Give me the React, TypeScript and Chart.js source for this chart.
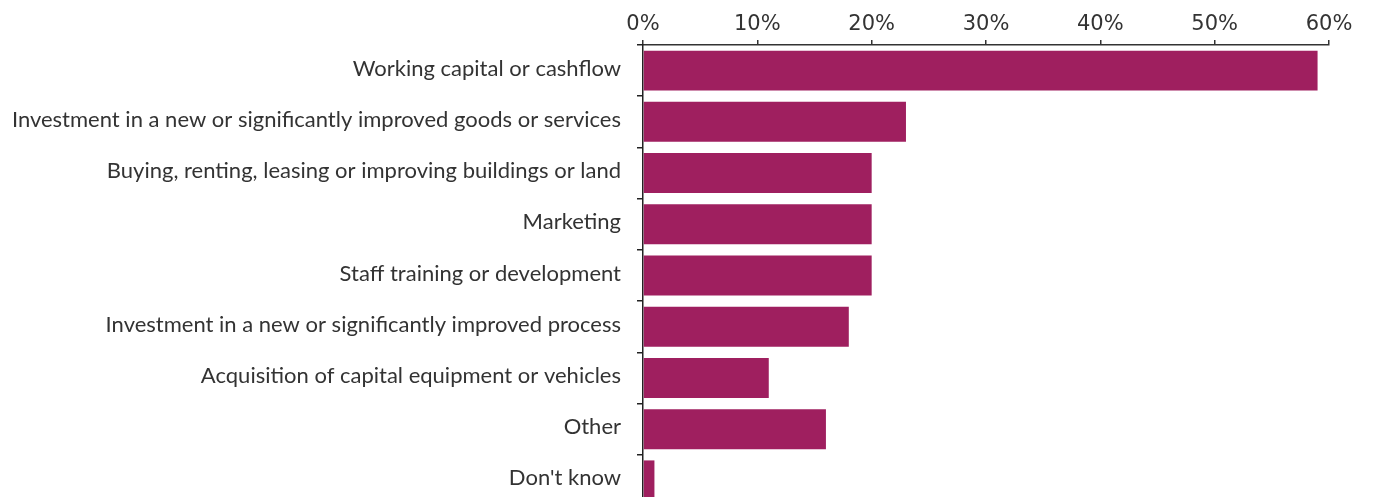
import React, { useEffect, useRef } from "react";
import { Chart, registerables } from "chart.js";

Chart.register(...registerables);

const categories = [
  "Working capital or cashflow",
  "Investment in a new or significantly improved goods or services",
  "Buying, renting, leasing or improving buildings or land",
  "Marketing",
  "Staff training or development",
  "Investment in a new or significantly improved process",
  "Acquisition of capital equipment or vehicles",
  "Other",
  "Don't know",
];
const values = [59, 23, 20, 20, 20, 18, 11, 16, 1];
const tickValues = [0, 10, 20, 30, 40, 50, 60];

export default function App() {
  const ref = useRef<HTMLCanvasElement>(null);
  useEffect(() => {
    if (!ref.current) return;
    const chart = new Chart(ref.current, {
      type: "bar",
      data: {
        labels: categories,
        datasets: [
          {
            data: values,
            backgroundColor: "#9F1F5F",
            borderWidth: 0,
            barPercentage: 1,
            categoryPercentage: 0.78,
          },
        ],
      },
      options: {
        indexAxis: "y",
        animation: false,
        responsive: false,
        layout: { padding: { left: 0, right: 44, top: 0, bottom: 0 } },
        plugins: { legend: { display: false }, tooltip: { enabled: false } },
        scales: {
          x: {
            position: "top",
            min: 0,
            max: 60,
            afterBuildTicks: (s: any) => {
              s.ticks = tickValues.map((v) => ({ value: v }));
            },
            afterFit: (s: any) => {
              s.height = 45;
              s.paddingLeft = 0;
              s.paddingRight = 0;
            },
            ticks: {
              callback: (v: any) => v + "%",
              color: "#333",
              font: { family: "DejaVu Sans", size: 21 },
              padding: 3,
              maxRotation: 0,
            },
            grid: {
              drawOnChartArea: false,
              drawTicks: true,
              tickLength: 5,
              color: "#333",
              lineWidth: 1.5,
            },
            border: { display: true, color: "#333", width: 1.5 },
          },
          y: {
            afterFit: (s: any) => {
              s.width = 643;
              s.paddingTop = 0;
              s.paddingBottom = 0;
            },
            ticks: {
              color: "#333",
              font: { family: "Lato", size: 22 },
              padding: 16,
              labelOffset: -2,
              autoSkip: false,
            },
            grid: {
              offset: true,
              drawOnChartArea: false,
              tickLength: 6,
              color: "#222",
              lineWidth: 1.5,
            },
            border: { display: true, color: "#222", width: 1.5 },
          },
        },
      },
    });
    return () => chart.destroy();
  }, []);
  return (
    <div style={{ position: "absolute", left: 0, top: 0, width: 1373, height: 506 }}>
      <canvas ref={ref} width={1373} height={506} />
    </div>
  );
}
